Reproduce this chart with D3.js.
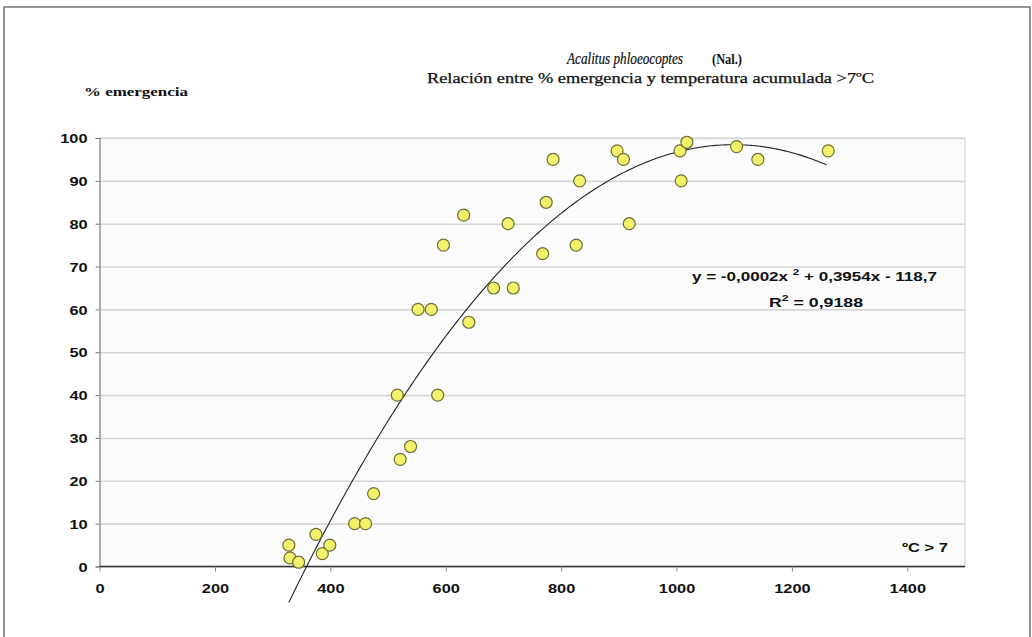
<!DOCTYPE html>
<html>
<head>
<meta charset="utf-8">
<script src="https://cdn.jsdelivr.net/npm/d3@7"></script>
<style>
  body { margin: 0; background: #fff; }
</style>
</head>
<body>
<svg id="chart"></svg>
<script>
// accumulated temperature > 7 ºC  vs  % emergence
let tempAcum = [328, 330, 345, 375, 386, 399, 442, 461, 475, 516, 521, 539, 552, 575, 586,
                596, 631, 640, 683, 708, 717, 768, 774, 786, 826, 832, 897, 908, 918,
                1006, 1008, 1018, 1104, 1141, 1263];
let emergencia = [5, 2, 1, 7.5, 3, 5, 10, 10, 17, 40, 25, 28, 60, 60, 40,
                  75, 82, 57, 65, 80, 65, 73, 85, 95, 75, 90, 97, 95, 80,
                  97, 90, 99, 98, 95, 97];
let xTicks = [0, 200, 400, 600, 800, 1000, 1200, 1400];
let yTicks = [0, 10, 20, 30, 40, 50, 60, 70, 80, 90, 100];
// polynomial trendline coefficients (label shows them rounded)
let trendCoef = [-0.00018, 0.3954, -118.7];

var W = 1032, H = 637;
var svg = d3.select('#chart').attr('width', W).attr('height', H);

// outer frame
svg.append('rect')
  .attr('x', 4).attr('y', 7)
  .attr('width', 1026).attr('height', 640)
  .attr('fill', 'none')
  .attr('stroke', '#707070')
  .attr('stroke-width', 1.5);

var x = d3.scaleLinear().domain([0, 1500]).range([99.6, 965]);
var y = d3.scaleLinear().domain([0, 100]).range([566.5, 138]);

// plot area
svg.append('rect')
  .attr('x', x(0)).attr('y', y(100))
  .attr('width', x(1500) - x(0)).attr('height', y(0) - y(100))
  .attr('fill', '#fbfbfb')
  .attr('stroke', '#d8d8d8')
  .attr('stroke-width', 1.2);

// horizontal grid
var grid = svg.append('g')
  .attr('transform', 'translate(' + x(0) + ',0)')
  .call(d3.axisLeft(y).tickValues(yTicks).tickSize(-(x(1500) - x(0))).tickFormat(''));
grid.select('.domain').remove();
grid.selectAll('line').attr('stroke', '#d6d6d6').attr('stroke-width', 1.6);

// axes
var gY = svg.append('g')
  .attr('transform', 'translate(' + x(0) + ',0)')
  .call(d3.axisLeft(y).tickValues(yTicks).tickSizeOuter(0).tickSize(4).tickPadding(8));
gY.select('.domain').attr('stroke', '#8a8a8a').attr('stroke-width', 1.2);
gY.selectAll('.tick line').attr('stroke', '#777');

var gX = svg.append('g')
  .attr('transform', 'translate(0,' + y(0) + ')')
  .call(d3.axisBottom(x).tickValues(xTicks).tickFormat(d3.format('d'))
    .tickSizeOuter(0).tickSize(5).tickPadding(10));
gX.select('.domain').attr('stroke', '#333').attr('stroke-width', 1.3)
  .attr('d', 'M' + x(0) + ',0H' + x(1500));
gX.selectAll('.tick line').attr('stroke', '#888');

svg.selectAll('.tick text')
  .attr('font-family', 'Liberation Sans, Arial, sans-serif')
  .attr('font-size', 13)
  .attr('font-weight', 'bold')
  .attr('fill', '#111');
gY.selectAll('.tick text').attr('dy', '0.36em');
gX.selectAll('.tick text').attr('dy', '0.85em');

// stretch scanned-looking text horizontally
function stretch(sel, f) {
  sel.each(function() {
    var len = this.getComputedTextLength();
    d3.select(this).attr('textLength', len * f).attr('lengthAdjust', 'spacingAndGlyphs');
  });
}
stretch(svg.selectAll('.tick text'), 1.26);

// trendline
var trendX = d3.range(tempAcum[0], tempAcum[tempAcum.length - 1] + 1, 4);
var line = d3.line()
  .x(function(d) { return x(d); })
  .y(function(d) { return y(trendCoef[0] * d * d + trendCoef[1] * d + trendCoef[2]); })
  .curve(d3.curveBasis);
svg.append('path')
  .datum(trendX)
  .attr('d', line)
  .attr('fill', 'none')
  .attr('stroke', '#222')
  .attr('stroke-width', 1.1);

// points
svg.append('g')
  .selectAll('circle')
  .data(tempAcum)
  .enter()
  .append('circle')
  .attr('cx', function(d) { return x(d); })
  .attr('cy', function(d, i) { return y(emergencia[i]); })
  .attr('r', 6)
  .attr('fill', '#f1f16a')
  .attr('stroke', '#6e6e36')
  .attr('stroke-width', 1.2);

// titles / labels
function addText(tx, ty, str, opts) {
  var t = svg.append('text')
    .attr('x', tx).attr('y', ty)
    .attr('font-family', opts.family || 'Liberation Serif, Times New Roman, serif')
    .attr('font-size', opts.size || 14)
    .attr('font-weight', opts.weight || 'normal')
    .attr('font-style', opts.style || 'normal')
    .attr('fill', '#111')
    .text(str);
  if (opts.width) t.attr('textLength', opts.width).attr('lengthAdjust', 'spacingAndGlyphs');
  return t;
}

addText(567, 64, 'Acalitus phloeocoptes', { style: 'italic', size: 16, width: 116 })
  .attr('stroke', '#111').attr('stroke-width', 0.2);
addText(712, 64, '(Nal.)', { weight: 'bold', width: 30 });
addText(427, 83, 'Relación entre % emergencia y temperatura acumulada >7ºC', { width: 447 })
  .attr('stroke', '#111').attr('stroke-width', 0.25);
addText(84, 96, '% emergencia', { weight: 'bold', size: 13, width: 104 });

// equation
var eq = svg.append('text')
  .attr('x', 692).attr('y', 281)
  .attr('font-family', 'Liberation Sans, Arial, sans-serif')
  .attr('font-size', 13)
  .attr('font-weight', 'bold')
  .attr('fill', '#111')
  .attr('textLength', 245).attr('lengthAdjust', 'spacingAndGlyphs');
eq.append('tspan').text('y = -0,0002x ');
eq.append('tspan').attr('dy', -6).attr('font-size', 9).text('2');
eq.append('tspan').attr('dy', 6).text(' + 0,3954x - 118,7');

var r2 = svg.append('text')
  .attr('x', 769).attr('y', 307)
  .attr('font-family', 'Liberation Sans, Arial, sans-serif')
  .attr('font-size', 13)
  .attr('font-weight', 'bold')
  .attr('fill', '#111')
  .attr('textLength', 94).attr('lengthAdjust', 'spacingAndGlyphs');
r2.append('tspan').text('R');
r2.append('tspan').attr('dy', -6).attr('font-size', 9).text('2');
r2.append('tspan').attr('dy', 6).text(' = 0,9188');

addText(902, 552, 'ºC > 7', { family: 'Liberation Sans, Arial, sans-serif', weight: 'bold', size: 13, width: 46 });
</script>
</body>
</html>
